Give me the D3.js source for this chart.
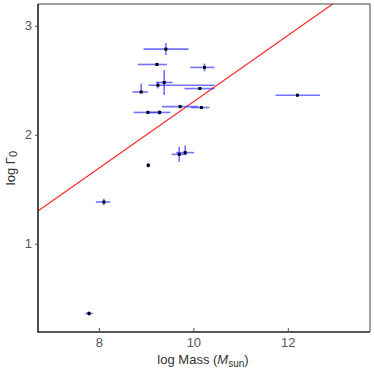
<!DOCTYPE html>
<html>
<head>
<meta charset="utf-8">
<script src="https://cdn.jsdelivr.net/npm/d3@7"></script>
<style>
  body { margin: 0; background: white; }
  text { font-family: "Liberation Sans", Arial, sans-serif; }
</style>
</head>
<body>
<div id="container"></div>
<script>
/* CONSTANTS AND GLOBALS */
const width = 374;
const height = 374;
const margin = { top: 4, right: 4, bottom: 42, left: 38 };

// DATA - log mass vs log gamma0, with error bar offsets
const logMass   = [9.418, 9.228, 10.235, 9.382, 9.249, 8.895, 10.137, 9.72, 10.17, 9.037, 9.283, 9.70, 9.826, 9.045, 8.105, 7.79, 12.203];
const logGamma  = [2.786, 2.645, 2.618, 2.48, 2.455, 2.393, 2.424, 2.258, 2.25, 2.205, 2.205, 1.82, 1.836, 1.72, 1.383, 0.36, 2.363];
const massErrLo = [0.474, 0.411, 0.303, 0.177, 0.20, 0.185, 0.327, 0.387, 0.22, 0.304, 0.26, 0.16, 0.19, 0.04, 0.17, 0.08, 0.466];
const massErrHi = [0.479, 0.211, 0.212, 0.177, 1.20, 0.145, 0.31, 0.38, 0.17, 0.30, 0.23, 0.16, 0.19, 0.04, 0.135, 0.08, 0.48];
const gammaErrLo = [0.055, 0.015, 0.036, 0.115, 0.03, 0.015, 0.01, 0.015, 0.01, 0.015, 0.02, 0.07, 0.01, 0.02, 0.03, 0.02, 0.01];
const gammaErrHi = [0.055, 0.015, 0.036, 0.115, 0.03, 0.077, 0.01, 0.015, 0.01, 0.015, 0.02, 0.07, 0.065, 0.02, 0.03, 0.02, 0.01];

// fit line
const fitSlope = 0.3045;
const fitIntercept = -0.743;

const xTicks = [8, 10, 12];
const yTicks = [1, 2, 3];

const points = logMass.map((m, i) => ({
    x: m, y: logGamma[i],
    xlo: m - massErrLo[i], xhi: m + massErrHi[i],
    ylo: logGamma[i] - gammaErrLo[i], yhi: logGamma[i] + gammaErrHi[i]
}));

// CREATE SVG
const svg = d3.select("#container")
    .append("svg")
    .attr("width", width)
    .attr("height", height);

// SCALES
const xScale = d3.scaleLinear()
    .domain([6.71, 13.74])
    .range([margin.left, width - margin.right]);

const yScale = d3.scaleLinear()
    .domain([0.19, 3.2])
    .range([height - margin.bottom, margin.top]);

svg.append("clipPath")
    .attr("id", "plotclip")
    .append("rect")
    .attr("x", margin.left)
    .attr("y", margin.top)
    .attr("width", width - margin.left - margin.right)
    .attr("height", height - margin.top - margin.bottom);

const plot = svg.append("g").attr("clip-path", "url(#plotclip)");

// FIT LINE
const [x0, x1] = xScale.domain();
plot.append("line")
    .attr("x1", xScale(x0))
    .attr("y1", yScale(fitSlope * x0 + fitIntercept))
    .attr("x2", xScale(x1))
    .attr("y2", yScale(fitSlope * x1 + fitIntercept))
    .attr("stroke", "#ff2a2a")
    .attr("stroke-width", 1.2);

// ERROR BARS
plot.selectAll("line.xerr")
    .data(points)
    .join("line")
    .attr("class", "xerr")
    .attr("x1", d => xScale(d.xlo))
    .attr("x2", d => xScale(d.xhi))
    .attr("y1", d => yScale(d.y))
    .attr("y2", d => yScale(d.y))
    .attr("stroke", "rgba(40,40,255,0.65)")
    .attr("stroke-width", 1.6);

plot.selectAll("line.yerr")
    .data(points)
    .join("line")
    .attr("class", "yerr")
    .attr("x1", d => xScale(d.x))
    .attr("x2", d => xScale(d.x))
    .attr("y1", d => yScale(d.ylo))
    .attr("y2", d => yScale(d.yhi))
    .attr("stroke", "rgba(40,40,255,0.65)")
    .attr("stroke-width", 1.6);

// POINTS
plot.selectAll("rect.pt")
    .data(points)
    .join("rect")
    .attr("class", "pt")
    .attr("x", d => xScale(d.x) - 1.5)
    .attr("y", d => yScale(d.y) - 1.5)
    .attr("width", 3)
    .attr("height", 3)
    .attr("fill", "#000");

// FRAME
const x0p = margin.left, x1p = width - margin.right;
const y0p = height - margin.bottom, y1p = margin.top;
svg.append("path")
    .attr("d", `M${x0p},${y1p}H${x1p}V${y0p}`)
    .attr("fill", "none")
    .attr("stroke", "#444")
    .attr("stroke-width", 1);

svg.append("path")
    .attr("d", `M${x0p},${y1p}V${y0p}H${x1p}`)
    .attr("fill", "none")
    .attr("stroke", "#222")
    .attr("stroke-width", 1.6);

// AXES
const xAxis = d3.axisBottom(xScale).tickValues(xTicks).tickSize(-4).tickPadding(6).tickFormat(d3.format("d"));
const yAxis = d3.axisLeft(yScale).tickValues(yTicks).tickSize(3).tickPadding(3).tickFormat(d3.format("d"));

const gx = svg.append("g")
    .attr("transform", `translate(0,${y0p})`)
    .call(xAxis);
const gy = svg.append("g")
    .attr("transform", `translate(${x0p},0)`)
    .call(yAxis);

[gx, gy].forEach(g => {
    g.select(".domain").remove();
    g.selectAll(".tick line").attr("stroke", "#555");
    g.selectAll(".tick text")
        .attr("fill", "#555")
        .style("font-size", "13px")
        .style("font-family", "Liberation Sans, Arial, sans-serif");
});

// LABELS
const xl = svg.append("text")
    .attr("x", 203)
    .attr("y", 364)
    .attr("text-anchor", "middle")
    .attr("fill", "#333")
    .style("font-size", "13px");
xl.append("tspan").text("log Mass (");
xl.append("tspan").style("font-style", "italic").text("M");
xl.append("tspan").attr("dy", 3).style("font-size", "10px").text("sun");
xl.append("tspan").attr("dy", -3).text(")");

const yl = svg.append("text")
    .attr("transform", `translate(15,168) rotate(-90)`)
    .attr("text-anchor", "middle")
    .attr("fill", "#333")
    .style("font-size", "13px");
yl.append("tspan").text("log Γ");
yl.append("tspan").attr("dy", 2).style("font-size", "11px").text("0");
</script>
</body>
</html>
